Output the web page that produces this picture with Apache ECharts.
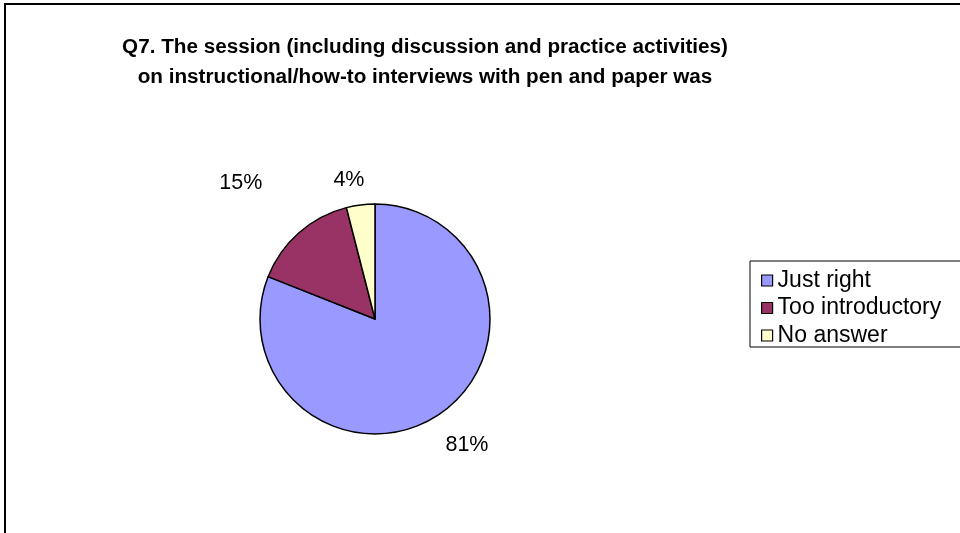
<!DOCTYPE html>
<html>
<head>
<meta charset="utf-8">
<script src="https://cdn.jsdelivr.net/npm/echarts@6/dist/echarts.min.js"></script>
<style>
html,body{margin:0;padding:0;background:#fff;}
#chart{width:960px;height:533px;}
</style>
</head>
<body>
<div id="chart"></div>
<script>
const titleLines = ['Q7. The session (including discussion and practice activities)', 'on instructional/how-to interviews with pen and paper was'];
const categories = ['Just right', 'Too introductory', 'No answer'];
const values = [81, 15, 4];
const colors = ['#9999FF', '#993366', '#FFFFCC'];
const labelLens = [37, 66, 25];
const labelDist = [-15, -7, -7];

const chart = echarts.init(document.getElementById('chart'), null, {renderer: 'canvas'});
const FONT = '"Liberation Sans", Arial, sans-serif';

chart.setOption({
  backgroundColor: '#fff',
  animation: false,
  graphic: [{
    type: 'rect',
    shape: {x: 5, y: 4, width: 1000, height: 600},
    style: {fill: 'none', stroke: '#000', lineWidth: 2},
    silent: true,
    z: -1
  }],
  title: {
    text: titleLines.join('\n'),
    left: 420,
    top: 27,
    textAlign: 'center',
    textStyle: {fontFamily: FONT, fontWeight: 'bold', fontSize: 20.7, lineHeight: 30, color: '#000'}
  },
  legend: {
    orient: 'vertical',
    left: 750,
    top: 261,
    data: categories,
    icon: 'rect',
    itemWidth: 11,
    itemHeight: 11,
    itemGap: 4.5,
    padding: [8, 40, 0, 11],
    borderColor: '#000',
    borderWidth: 1,
    backgroundColor: '#fff',
    itemStyle: {borderColor: '#000', borderWidth: 1.2},
    textStyle: {fontFamily: FONT, fontSize: 23, color: '#000', lineHeight: 18, padding: [0,0,0,0]}
  },
  series: [{
    type: 'pie',
    center: [375, 319],
    radius: 115,
    startAngle: 90,
    clockwise: true,
    avoidLabelOverlap: false,
    itemStyle: {borderColor: '#000', borderWidth: 1.5},
    label: {
      show: true,
      position: 'outside',
      fontFamily: FONT,
      fontSize: 21.5,
      color: '#000',
      formatter: p => p.value + '%'
    },
    labelLine: {show: false, length2: 0},
    emphasis: {disabled: true},
    data: categories.map((c, i) => ({
      name: c,
      value: values[i],
      itemStyle: {color: colors[i]},
      labelLine: {show: false, length: labelLens[i], length2: 0},
      label: {distanceToLabelLine: labelDist[i]}
    }))
  }]
});
</script>
</body>
</html>
